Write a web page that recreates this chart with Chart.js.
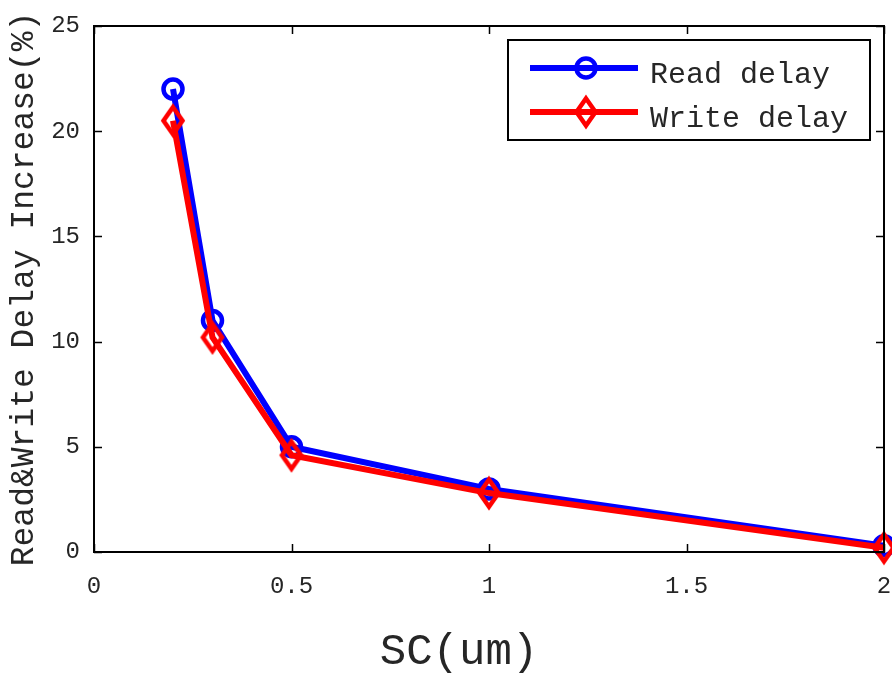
<!DOCTYPE html>
<html>
<head>
<meta charset="utf-8">
<script src="https://cdn.jsdelivr.net/npm/chart.js@4.4.1/dist/chart.umd.min.js"></script>
<style>
  html, body { margin: 0; padding: 0; background: #ffffff; }
  #c { display: block; }
</style>
</head>
<body>
<canvas id="c" width="892" height="673"></canvas>
<script>
// Spacer size (um) and the relative delay increase (%) for reads and writes
const scValues   = [0.2, 0.3, 0.5, 1, 2];
const readDelay  = [22, 11, 5, 3, 0.3];
const writeDelay = [20.5, 10.2, 4.6, 2.8, 0.2];

const xTicks = [0, 0.5, 1, 1.5, 2];
const yTicks = [0, 5, 10, 15, 20, 25];
const seriesNames = ['Read delay', 'Write delay'];
const xTitle = 'SC(um)';
const yTitle = 'Read&Write Delay Increase(%)';

const MONO = '"Liberation Mono", "DejaVu Sans Mono", monospace';
const TEXT = '#262626';

// Tall open diamond marker (unfilled, MATLAB style)
function diamondMarker(color) {
  const w = 28, h = 36, lw = 4.5;
  const cv = document.createElement('canvas');
  cv.width = w; cv.height = h;
  const g = cv.getContext('2d');
  g.strokeStyle = color;
  g.lineWidth = lw;
  g.lineJoin = 'miter';
  g.beginPath();
  g.moveTo(w / 2, lw);
  g.lineTo(w - lw, h / 2);
  g.lineTo(w / 2, h - lw);
  g.lineTo(lw, h / 2);
  g.closePath();
  g.stroke();
  return cv;
}
const redDiamond = diamondMarker('#ff0000');

// Box frame with inward tick marks on all four sides, plus the x-axis title
const boxTicks = {
  id: 'boxTicks',
  afterDatasetsDraw(chart) {
    const { ctx, chartArea: a, scales: { x, y } } = chart;
    const len = 8;
    ctx.save();
    ctx.strokeStyle = '#000';
    ctx.lineWidth = 1.5;
    ctx.beginPath();
    xTicks.forEach(v => {
      const px = Math.round(x.getPixelForValue(v)) + 0.5;
      ctx.moveTo(px, a.bottom); ctx.lineTo(px, a.bottom - len);
      ctx.moveTo(px, a.top); ctx.lineTo(px, a.top + len);
    });
    yTicks.forEach(v => {
      const py = Math.round(y.getPixelForValue(v)) + 0.5;
      ctx.moveTo(a.left, py); ctx.lineTo(a.left + len, py);
      ctx.moveTo(a.right, py); ctx.lineTo(a.right - len, py);
    });
    ctx.stroke();
    ctx.lineWidth = 2;
    ctx.strokeRect(a.left, a.top, a.right - a.left, a.bottom - a.top);

    ctx.fillStyle = TEXT;
    ctx.font = '44px ' + MONO;
    ctx.textAlign = 'center';
    ctx.textBaseline = 'middle';
    ctx.fillText(xTitle, (a.left + a.right) / 2 - 30, a.bottom + 100);
    ctx.restore();
  }
};

// Legend box with line + marker samples
const lineLegend = {
  id: 'lineLegend',
  afterDraw(chart) {
    const { ctx, chartArea: a } = chart;
    const bx = a.right - 376, by = a.top + 14, bw = 362, bh = 100;
    ctx.save();
    ctx.fillStyle = '#fff';
    ctx.fillRect(bx, by, bw, bh);
    ctx.strokeStyle = '#000';
    ctx.lineWidth = 2;
    ctx.strokeRect(bx, by, bw, bh);
    const rows = [by + 28, by + 72];
    chart.data.datasets.forEach((ds, i) => {
      const ry = rows[i];
      ctx.strokeStyle = ds.borderColor;
      ctx.lineWidth = 6;
      ctx.beginPath();
      ctx.moveTo(bx + 22, ry);
      ctx.lineTo(bx + 130, ry);
      ctx.stroke();
      const mx = bx + 78;
      if (ds.pointStyle === 'circle') {
        ctx.lineWidth = 4.5;
        ctx.beginPath();
        ctx.arc(mx, ry, 9.5, 0, Math.PI * 2);
        ctx.stroke();
      } else {
        ctx.drawImage(ds.pointStyle, mx - ds.pointStyle.width / 2, ry - ds.pointStyle.height / 2);
      }
      ctx.fillStyle = TEXT;
      ctx.font = '30px ' + MONO;
      ctx.textBaseline = 'middle';
      ctx.textAlign = 'left';
      ctx.fillText(ds.label, bx + 142, ry + 7);
    });
    ctx.restore();
  }
};

const toPoints = (xs, ys) => xs.map((v, i) => ({ x: v, y: ys[i] }));

new Chart(document.getElementById('c'), {
  type: 'line',
  data: {
    datasets: [
      {
        label: seriesNames[0],
        data: toPoints(scValues, readDelay),
        borderColor: '#0000ff',
        backgroundColor: 'rgba(0,0,0,0)',
        borderWidth: 6,
        pointStyle: 'circle',
        pointRadius: 9.5,
        pointBorderWidth: 4.5,
        pointBorderColor: '#0000ff',
        pointBackgroundColor: 'rgba(0,0,0,0)',
        tension: 0,
        order: 2
      },
      {
        label: seriesNames[1],
        data: toPoints(scValues, writeDelay),
        borderColor: '#ff0000',
        backgroundColor: 'rgba(0,0,0,0)',
        borderWidth: 6,
        pointStyle: redDiamond,
        pointRadius: 14,
        tension: 0,
        order: 1
      }
    ]
  },
  options: {
    responsive: false,
    animation: false,
    devicePixelRatio: 1,
    clip: false,
    layout: { autoPadding: false, padding: { left: 0, right: 8, top: 26, bottom: 0 } },
    plugins: {
      legend: { display: false },
      tooltip: { enabled: false }
    },
    scales: {
      x: {
        type: 'linear',
        min: 0, max: 2,
        afterBuildTicks(s) { s.ticks = xTicks.map(v => ({ value: v })); },
        afterFit(s) { s.height = 121; s.paddingLeft = 0; s.paddingRight = 0; },
        grid: { display: false, drawTicks: false },
        border: { display: false },
        ticks: {
          padding: 20,
          color: TEXT,
          font: { family: MONO, size: 24 },
          maxRotation: 0,
          autoSkip: false,
          callback: v => String(v)
        },
        title: { display: false }
      },
      y: {
        type: 'linear',
        min: 0, max: 25,
        afterBuildTicks(s) { s.ticks = yTicks.map(v => ({ value: v })); },
        afterFit(s) { s.width = 94; s.paddingTop = 0; s.paddingBottom = 0; },
        grid: { display: false, drawTicks: false },
        border: { display: false },
        ticks: {
          padding: 14,
          color: TEXT,
          font: { family: MONO, size: 24 },
          autoSkip: false,
          callback: v => String(v)
        },
        title: {
          display: true,
          text: yTitle,
          color: TEXT,
          font: { family: MONO, size: 33, lineHeight: 1.2 },
          padding: { top: 4, bottom: 0 }
        }
      }
    }
  },
  plugins: [boxTicks, lineLegend]
});
</script>
</body>
</html>
